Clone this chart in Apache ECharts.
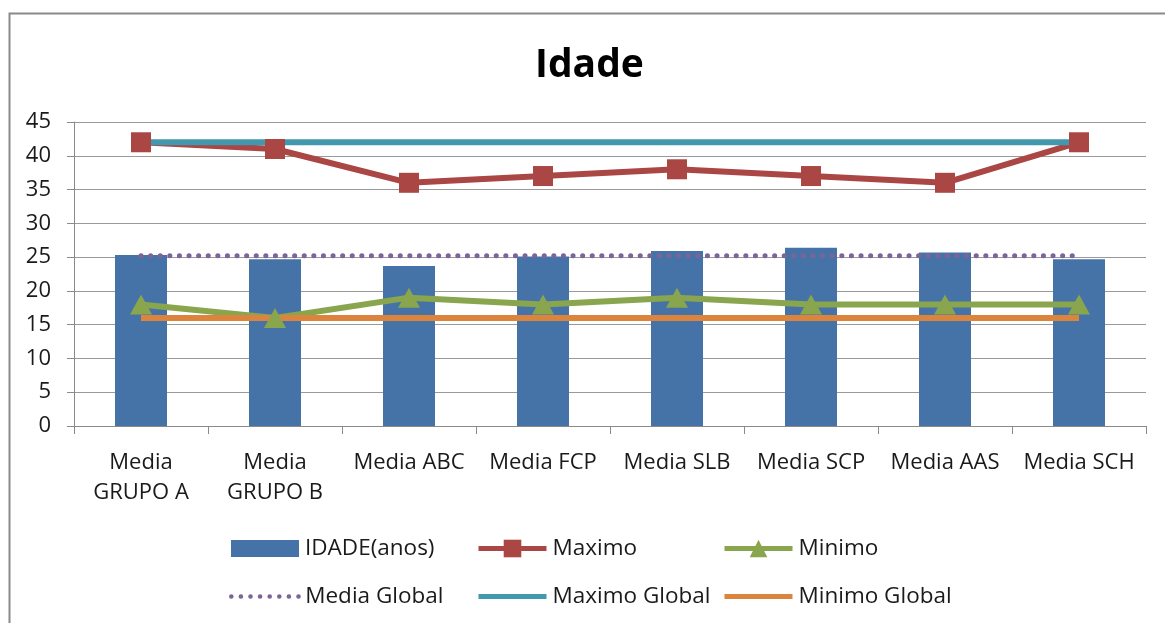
<!DOCTYPE html>
<html>
<head>
<meta charset="utf-8">
<script src="https://cdn.jsdelivr.net/npm/echarts@6/dist/echarts.min.js"></script>
<style>
html,body{margin:0;padding:0;background:#fff;}
#c{width:1165px;height:623px;}
</style>
</head>
<body>
<div id="c"></div>
<script>
const categories = ['Media\nGRUPO A', 'Media\nGRUPO B', 'Media ABC', 'Media FCP', 'Media SLB', 'Media SCP', 'Media AAS', 'Media SCH'];
const idade = [25.3, 24.7, 23.7, 25.1, 25.9, 26.4, 25.7, 24.7];
const maximo = [42, 41, 36, 37, 38, 37, 36, 42];
const minimo = [18, 16, 19, 18, 19, 18, 18, 18];
const mediaGlobal = [25.2, 25.2, 25.2, 25.2, 25.2, 25.2, 25.2, 25.2];
const maximoGlobal = [42, 42, 42, 42, 42, 42, 42, 42];
const minimoGlobal = [16, 16, 16, 16, 16, 16, 16, 16];
const yTicks = { min: 0, max: 45, interval: 5 };

const FONT = 'Open Sans';
const chart = echarts.init(document.getElementById('c'), null, { renderer: 'canvas' });

const C = { bar: '#4673A7', max: '#AA4643', min: '#89A54E', mg: '#7E6399', maxg: '#4198AF', ming: '#DB843D' };
const DOT = [0.1, 9.5];

function lg(name, left, top, extra) {
  return Object.assign({
    data: [name], left: left, top: top, orient: 'horizontal', padding: 0,
    itemWidth: 68, itemHeight: 22, itemGap: 0, selectedMode: false,
    textStyle: { fontFamily: FONT, fontSize: 22.5, color: '#1a1a1a', padding: [0, 0, 0, 1] }
  }, extra || {});
}

chart.setOption({
  animation: false,
  backgroundColor: '#ffffff',
  title: {
    text: 'Idade', left: 530, top: 41,
    textStyle: { fontFamily: FONT, fontSize: 39, fontWeight: 'bold', color: '#000' }
  },
  graphic: [{
    type: 'rect', left: 7, top: 11, silent: true,
    shape: { width: 1200, height: 700 },
    style: { fill: 'none', stroke: '#8a8a8a', lineWidth: 2 }
  }],
  legend: [
    lg('IDADE(anos)', 231, 537, { icon: 'rect', itemHeight: 17 }),
    lg('Maximo', 476, 537, { lineStyle: { width: 5 } }),
    lg('Minimo', 722, 537, { lineStyle: { width: 5 } }),
    lg('Media Global', 229, 585, { lineStyle: { width: 4.5, type: DOT, cap: 'round' }, itemStyle: { opacity: 0 } }),
    lg('Maximo Global', 476, 585, { lineStyle: { width: 5 }, itemStyle: { opacity: 0 } }),
    lg('Minimo Global', 722, 585, { lineStyle: { width: 5 }, itemStyle: { opacity: 0 } })
  ],
  grid: { left: 74, right: 19, top: 122, bottom: 197, containLabel: false },
  xAxis: {
    type: 'category', data: categories, boundaryGap: true,
    axisLine: { lineStyle: { color: '#8a8a8a', width: 1 } },
    axisTick: { show: true, length: 8, interval: 0, lineStyle: { color: '#8a8a8a' } },
    axisLabel: { interval: 0, margin: 22, fontFamily: FONT, fontSize: 22, color: '#1a1a1a', lineHeight: 30 }
  },
  yAxis: {
    type: 'value', min: yTicks.min, max: yTicks.max, interval: yTicks.interval,
    axisLine: { show: true, lineStyle: { color: '#8a8a8a', width: 1 } },
    axisTick: { show: true, length: 7, lineStyle: { color: '#8a8a8a' } },
    splitLine: { show: true, lineStyle: { color: '#999999', width: 1 } },
    axisLabel: { margin: 23, fontFamily: FONT, fontSize: 22, color: '#1a1a1a' }
  },
  series: [
    {
      name: 'IDADE(anos)', type: 'bar', data: idade, barWidth: 52,
      itemStyle: { color: C.bar }
    },
    {
      name: 'Maximo', type: 'line', data: maximo,
      symbol: 'rect', symbolSize: 20, showSymbol: true,
      lineStyle: { color: C.max, width: 6 },
      itemStyle: { color: C.max }
    },
    {
      name: 'Minimo', type: 'line', data: minimo,
      symbol: 'triangle', symbolSize: [22, 20], showSymbol: true,
      lineStyle: { color: C.min, width: 6 },
      itemStyle: { color: C.min }
    },
    {
      name: 'Media Global', type: 'line', data: mediaGlobal,
      symbol: 'none', showSymbol: false,
      lineStyle: { color: C.mg, width: 5, type: DOT, cap: 'round' },
      itemStyle: { color: C.mg }
    },
    {
      name: 'Maximo Global', type: 'line', data: maximoGlobal,
      symbol: 'none', showSymbol: false,
      lineStyle: { color: C.maxg, width: 6 },
      itemStyle: { color: C.maxg }
    },
    {
      name: 'Minimo Global', type: 'line', data: minimoGlobal,
      symbol: 'none', showSymbol: false,
      lineStyle: { color: C.ming, width: 6 },
      itemStyle: { color: C.ming }
    }
  ]
});
</script>
</body>
</html>
